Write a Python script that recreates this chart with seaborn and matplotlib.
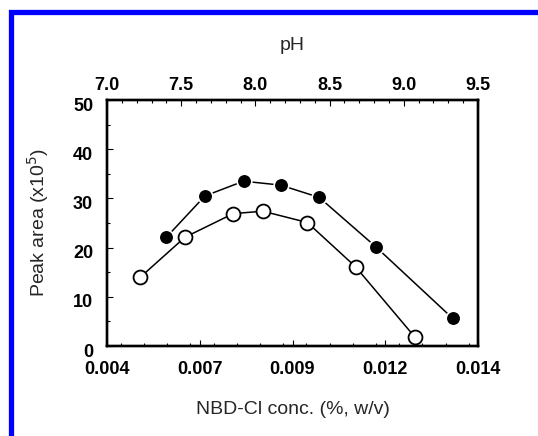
import numpy as np
import pandas as pd
import matplotlib
matplotlib.use('Agg')
import matplotlib.pyplot as plt
import matplotlib.transforms as mtransforms
import seaborn as sns
from matplotlib.ticker import MultipleLocator, FixedLocator, FixedFormatter

# NBD-Cl concentration series (open circles, bottom axis)
conc = [0.0049, 0.0061, 0.0074, 0.0082, 0.0094, 0.0107, 0.0123]
area_conc = [14.0, 22.1, 26.9, 27.4, 25.1, 16.1, 1.8]

# pH series (filled circles, top axis)
ph = [7.40, 7.66, 7.92, 8.17, 8.43, 8.81, 9.33]
area_ph = [22.1, 30.5, 33.5, 32.7, 30.2, 20.2, 5.6]

conc_ticks = [0.004, 0.0065, 0.009, 0.0115, 0.014]
conc_labels = ['0.004', '0.007', '0.009', '0.012', '0.014']
ph_ticks = [7.0, 7.5, 8.0, 8.5, 9.0, 9.5]
y_ticks = [0, 10, 20, 30, 40, 50]

sns.set_style('white')
plt.rcParams['font.family'] = ['Liberation Sans', 'DejaVu Sans']

fig = plt.figure(figsize=(5.38, 4.36), dpi=100)
ax = fig.add_axes([107 / 538, 1 - 346 / 436, 371 / 538, 246 / 436])

df_c = pd.DataFrame({'conc': conc, 'area': area_conc})
df_p = pd.DataFrame({'ph': ph, 'area': area_ph})

sns.lineplot(data=df_c, x='conc', y='area', ax=ax, sort=False, color='black',
             linewidth=1.1, marker='o', markersize=10, markerfacecolor='white',
             markeredgecolor='black', markeredgewidth=1.3)
ax.set_xlim(0.004, 0.014)
ax.set_ylim(0, 50)

ax2 = ax.twiny()
sns.lineplot(data=df_p, x='ph', y='area', ax=ax2, sort=False, color='black',
             linewidth=1.1, marker='o', markersize=10.5, markerfacecolor='black',
             markeredgecolor='white', markeredgewidth=1.2)
ax2.set_xlim(7.0, 9.5)

ax.xaxis.set_major_locator(FixedLocator(conc_ticks))
ax.xaxis.set_major_formatter(FixedFormatter(conc_labels))
ax.xaxis.set_minor_locator(MultipleLocator(0.000625))
ax.set_yticks(y_ticks)
ax.yaxis.set_minor_locator(MultipleLocator(5))
ax2.set_xticks(ph_ticks)
ax2.set_xticklabels([f'{v:.1f}' for v in ph_ticks])
ax2.xaxis.set_minor_locator(MultipleLocator(0.1))

for a in (ax, ax2):
    a.tick_params(which='both', direction='in', length=4.5, width=0.8, colors='black')
    a.tick_params(which='minor', length=2.5)
    for lbl in a.get_xticklabels() + a.get_yticklabels():
        lbl.set_fontsize(13)
        lbl.set_fontweight('bold')
    for s in a.spines.values():
        s.set_color('black')
        s.set_linewidth(1.7)
ax.tick_params(axis='x', which='both', bottom=True, top=False, pad=11)
ax.tick_params(axis='y', which='both', left=True, right=False, pad=10)
ax2.tick_params(axis='x', which='both', top=True, bottom=False, pad=4)

# y tick labels sit a little below their ticks in the reference
shift = mtransforms.ScaledTranslation(0, -3 / 72, fig.dpi_scale_trans)
for lbl in ax.get_yticklabels():
    lbl.set_transform(lbl.get_transform() + shift)

ax.set_xlabel('NBD-Cl conc. (%, w/v)', fontsize=14, labelpad=16)
ax.set_ylabel('Peak area (x10$^5$)', fontsize=14, labelpad=16)
ax2.set_xlabel('pH', fontsize=14, labelpad=20)

# blue frame along top and left edge
fig.patches.append(plt.Rectangle((10.5 / 538, -0.1), 1.2, 1.1 - 12.5 / 436,
                                 transform=fig.transFigure, fill=False,
                                 edgecolor='#0000ff', linewidth=3.8))

fig.savefig('out.png', dpi=100)
